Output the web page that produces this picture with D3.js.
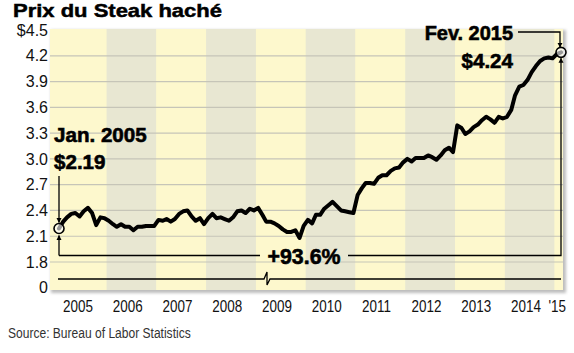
<!DOCTYPE html>
<html>
<head>
<meta charset="utf-8">
<script src="https://cdn.jsdelivr.net/npm/d3@7"></script>
<style>
  body { margin: 0; background: #fff; }
  svg { display: block; }
</style>
</head>
<body>
<div id="chart"></div>
<script>
// Monthly price, Jan 2005 -> Feb 2015
const prices2005 = [2.19, 2.27, 2.32, 2.36, 2.37, 2.33, 2.39, 2.43, 2.37, 2.23, 2.32, 2.31];
const prices2006 = [2.28, 2.24, 2.21, 2.24, 2.21, 2.21, 2.17, 2.21, 2.21, 2.22, 2.22, 2.22];
const prices2007 = [2.29, 2.28, 2.30, 2.27, 2.30, 2.36, 2.39, 2.40, 2.33, 2.28, 2.31, 2.24];
const prices2008 = [2.31, 2.36, 2.31, 2.32, 2.30, 2.28, 2.32, 2.39, 2.40, 2.37, 2.42, 2.40];
const prices2009 = [2.43, 2.35, 2.27, 2.27, 2.25, 2.22, 2.18, 2.15, 2.15, 2.17, 2.08, 2.22];
const prices2010 = [2.29, 2.25, 2.35, 2.35, 2.42, 2.46, 2.50, 2.45, 2.40, 2.39, 2.38, 2.37];
const prices2011 = [2.58, 2.66, 2.72, 2.72, 2.71, 2.78, 2.81, 2.81, 2.86, 2.89, 2.90, 2.96];
const prices2012 = [3.00, 2.97, 3.01, 3.01, 3.01, 3.04, 3.02, 2.99, 3.04, 3.10, 3.13, 3.08];
const prices2013 = [3.39, 3.36, 3.29, 3.32, 3.37, 3.40, 3.45, 3.49, 3.46, 3.42, 3.49, 3.47];
const prices2014 = [3.49, 3.57, 3.74, 3.84, 3.86, 3.92, 4.01, 4.08, 4.14, 4.17, 4.18, 4.17];
const prices2015 = [4.22, 4.24];

const years = [2005, 2006, 2007, 2008, 2009, 2010, 2011, 2012, 2013, 2014, 2015];
const yearLabels = ['2005', '2006', '2007', '2008', '2009', '2010', '2011', '2012', '2013', '2014', "'15"];
const yTicks = [1.5, 1.8, 2.1, 2.4, 2.7, 3.0, 3.3, 3.6, 3.9, 4.2, 4.5];
const yTickLabels = ['0', '1.8', '2.1', '2.4', '2.7', '3.0', '3.3', '3.6', '3.9', '4.2', '$4.5'];

const prices = [].concat(prices2005, prices2006, prices2007, prices2008, prices2009,
  prices2010, prices2011, prices2012, prices2013, prices2014, prices2015);
const data = prices.map((v, i) => ({ date: new Date(2005, i, 1), value: v }));
const first = data[0];
const last = data[data.length - 1];

const width = 574;
const height = 353;

// plot frame
const plotLeft = 50;
const plotRight = 563;
const plotTop = 29;
const plotBottom = 290;

const font = "'Liberation Sans', Arial, Helvetica, sans-serif";

// squeeze a text to look like the condensed face of the original
function condense(sel, factor) {
  sel.each(function () {
    const w = this.getComputedTextLength();
    d3.select(this)
      .attr('textLength', w * factor)
      .attr('lengthAdjust', 'spacingAndGlyphs');
  });
}

const svg = d3.select('#chart')
  .append('svg')
  .attr('width', width)
  .attr('height', height);

svg.append('rect').attr('width', width).attr('height', height).attr('fill', '#fff');

const defs = svg.append('defs');
defs.append('marker')
  .attr('id', 'arrow')
  .attr('viewBox', '0 0 10 10')
  .attr('refX', 9)
  .attr('refY', 5)
  .attr('markerWidth', 5)
  .attr('markerHeight', 8)
  .attr('markerUnits', 'userSpaceOnUse')
  .attr('orient', 'auto')
  .append('path')
  .attr('d', 'M0,0 L10,5 L0,10 Z')
  .attr('fill', '#000');
defs.append('filter')
  .attr('id', 'shadow')
  .append('feGaussianBlur')
  .attr('stdDeviation', 1.5);

// Scales
const x = d3.scaleTime()
  .domain([first.date, last.date])
  .range([59, 561]);

const y = d3.scaleLinear()
  .domain([1.5, 4.5])
  .range([287.8, 30]);

// Frame with soft shadow
svg.append('rect')
  .attr('x', plotLeft + 1)
  .attr('y', plotTop + 1)
  .attr('width', plotRight - plotLeft + 2)
  .attr('height', plotBottom - plotTop + 2)
  .attr('fill', '#bdbdbd')
  .attr('filter', 'url(#shadow)');

svg.append('rect')
  .attr('x', plotLeft)
  .attr('y', plotTop)
  .attr('width', plotRight - plotLeft)
  .attr('height', plotBottom - plotTop)
  .attr('fill', '#fdf8cd');

// Alternating year bands
const bandEdge = yr => Math.max(plotLeft, Math.min(plotRight, x(new Date(yr - 1, 11, 16))));
svg.append('g')
  .selectAll('rect')
  .data(years)
  .join('rect')
  .attr('x', d => bandEdge(d))
  .attr('y', plotTop)
  .attr('width', d => (d === 2015 ? plotRight : bandEdge(d + 1)) - bandEdge(d))
  .attr('height', plotBottom - plotTop)
  .attr('fill', (d, i) => (i % 2 ? '#e8e7d2' : '#fdf8cd'));

// Horizontal grid
svg.append('g')
  .selectAll('line')
  .data(yTicks.filter(d => d > 1.5 && d < 4.5))
  .join('line')
  .attr('x1', plotLeft)
  .attr('x2', plotRight)
  .attr('y1', d => y(d))
  .attr('y2', d => y(d))
  .attr('stroke', '#c6c5b8')
  .attr('stroke-width', 1.2);

// Y axis labels
const yAxis = d3.axisLeft(y)
  .tickValues(yTicks)
  .tickSize(0)
  .tickPadding(0)
  .tickFormat((d, i) => yTickLabels[i]);

svg.append('g')
  .attr('transform', 'translate(48,0)')
  .call(yAxis)
  .call(g => g.select('.domain').remove())
  .selectAll('text')
  .attr('font-family', font)
  .attr('font-size', '16px')
  .attr('fill', '#111');

// X axis labels
const xAxis = d3.axisBottom(x)
  .tickValues(years.map(yr => (yr === 2015 ? new Date(2015, 0, 1) : new Date(yr, 4, 16))))
  .tickSize(0)
  .tickPadding(0)
  .tickFormat((d, i) => yearLabels[i]);

svg.append('g')
  .attr('transform', 'translate(0,301)')
  .call(xAxis)
  .call(g => g.select('.domain').remove())
  .selectAll('text')
  .attr('font-family', font)
  .attr('font-size', '16px')
  .attr('fill', '#111')
  .call(condense, 0.84);

// Broken baseline
const breakX = 267;
const baseY = 279;
svg.append('path')
  .attr('d', `M${x(first.date) - 1},${baseY} H${breakX - 3} L${breakX},${baseY - 7} L${breakX},${baseY + 6} L${breakX + 3},${baseY} H${x(last.date)}`)
  .attr('fill', 'none')
  .attr('stroke', '#000')
  .attr('stroke-width', 1.3);

// Change bracket
const bracketY = 255.5;
const bracket = svg.append('g')
  .attr('fill', 'none')
  .attr('stroke', '#000')
  .attr('stroke-width', 1.3);

bracket.append('path')
  .attr('d', `M${x(first.date)},${bracketY} V${y(first.value) + 7}`)
  .attr('marker-end', 'url(#arrow)');
bracket.append('path')
  .attr('d', `M${x(first.date)},${bracketY} H260`);
bracket.append('path')
  .attr('d', `M348,${bracketY} H${x(last.date)} V${y(last.value) + 6}`)
  .attr('marker-end', 'url(#arrow)');

const noteStyle = sel => sel
  .attr('font-family', font)
  .attr('font-weight', 'bold')
  .attr('font-size', '21px')
  .attr('fill', '#000')
  .attr('stroke', '#000')
  .attr('stroke-width', 0.6);

svg.append('text')
  .attr('x', 304)
  .attr('y', bracketY + 8)
  .attr('text-anchor', 'middle')
  .call(noteStyle)
  .attr('font-size', '22px')
  .text('+93.6%')
  .call(condense, 0.97);

// Price line
const line = d3.line()
  .x(d => x(d.date))
  .y(d => y(d.value));

svg.append('path')
  .datum(data)
  .attr('d', line)
  .attr('fill', 'none')
  .attr('stroke', '#000')
  .attr('stroke-width', 4)
  .attr('stroke-linejoin', 'round')
  .attr('stroke-linecap', 'round');

// Start / end annotations
svg.append('path')
  .attr('d', `M${x(first.date)},176 V${y(first.value) - 6}`)
  .attr('fill', 'none')
  .attr('stroke', '#000')
  .attr('stroke-width', 1.3)
  .attr('marker-end', 'url(#arrow)');

svg.append('path')
  .attr('d', `M518,32 H${x(last.date) - 1} V${y(last.value) - 5}`)
  .attr('fill', 'none')
  .attr('stroke', '#000')
  .attr('stroke-width', 1.3)
  .attr('marker-end', 'url(#arrow)');

svg.append('g')
  .selectAll('circle')
  .data([first, last])
  .join('circle')
  .attr('cx', d => x(d.date))
  .attr('cy', d => y(d.value))
  .attr('r', 5)
  .attr('fill', '#fff')
  .attr('fill-opacity', 0.6)
  .attr('stroke', '#000')
  .attr('stroke-width', 1.6);

svg.append('text').attr('x', 54).attr('y', 142).call(noteStyle).text('Jan. 2005').call(condense, 0.98);
svg.append('text').attr('x', 54).attr('y', 169).call(noteStyle).text('$' + first.value.toFixed(2)).call(condense, 0.98);
svg.append('text').attr('x', 513).attr('y', 40).attr('text-anchor', 'end').call(noteStyle).text('Fev. 2015').call(condense, 0.95);
svg.append('text').attr('x', 513).attr('y', 68).attr('text-anchor', 'end').call(noteStyle).text('$' + last.value.toFixed(2)).call(condense, 0.98);

// Title and source
svg.append('text')
  .attr('x', 13)
  .attr('y', 17)
  .attr('font-family', font)
  .attr('font-weight', 'bold')
  .attr('font-size', '19px')
  .attr('fill', '#000')
  .attr('stroke', '#000')
  .attr('stroke-width', 0.5)
  .attr('textLength', 209)
  .attr('lengthAdjust', 'spacingAndGlyphs')
  .text('Prix du Steak haché');

svg.append('text')
  .attr('x', 8)
  .attr('y', 338)
  .attr('font-family', font)
  .attr('font-size', '14px')
  .attr('fill', '#333')
  .text('Source:  Bureau of Labor Statistics')
  .call(condense, 0.86);
</script>
</body>
</html>
